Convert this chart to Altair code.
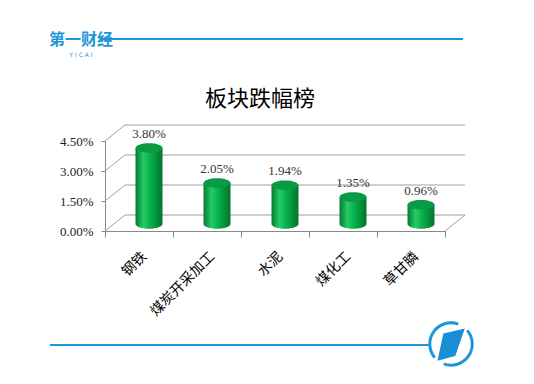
import altair as alt
import pandas as pd

categories = ["钢铁", "煤炭开采加工", "水泥", "煤化工", "草甘膦"]
values = [3.80, 2.05, 1.94, 1.35, 0.96]
y_ticks = [0.0, 1.5, 3.0, 4.5]
title_text = "板块跌幅榜"
logo_text = "第一财经"
logo_sub = "Y I C A I"

df = pd.DataFrame({"cat": categories, "val": values,
                   "label": [f"{v:.2f}%" for v in values]})
grid = pd.DataFrame({"g": y_ticks})
one = pd.DataFrame({"k": [0]})

W, H = 340, 90
DX, DY = 20, -16
BX, BY = 10, -7
BLUE = "#1e96dc"
GRID = "#a0a0a0"

x_enc = alt.X("cat:N", sort=categories,
              scale=alt.Scale(paddingInner=0, paddingOuter=0),
              axis=alt.Axis(title=None, labelAngle=-45, tickBand="extent",
                            domainColor="#888888", tickColor="#888888", tickSize=6,
                            labelFont="Noto Sans CJK SC", labelFontSize=14,
                            labelColor="#000000", labelPadding=12, grid=False,
                            labelOverlap=False))
y_scale = alt.Scale(domain=[0, 4.5], nice=False, zero=True)
y_axis = alt.Axis(title=None, values=y_ticks, grid=False, labelOverlap=False,
                  labelFlush=False,
                  labelExpr="format(datum.value, '.2f') + '%'",
                  labelFont="Liberation Serif", labelFontSize=13, labelColor="#222222",
                  domainColor="#888888", tickColor="#888888", tickSize=4, labelPadding=8)

grad = alt.LinearGradient(gradient="linear", x1=0, x2=1, y1=0, y2=0, stops=[
    alt.GradientStop(offset=0, color="#067a33"),
    alt.GradientStop(offset=0.3, color="#25cc64"),
    alt.GradientStop(offset=0.55, color="#07b04b"),
    alt.GradientStop(offset=1, color="#04742d"),
])

ellipse = "M -1 0 A 1 0.35 0 1 1 1 0 A 1 0.35 0 1 1 -1 0 Z"
half_ellipse = "M -1 0 A 1 0.35 0 0 0 1 0 Z"

# back wall gridlines
back = alt.Chart(grid).mark_rule(color=GRID, strokeWidth=1, yOffset=DY, y2Offset=DY).encode(
    x=alt.value(DX), x2=alt.value(W + DX),
    y=alt.Y("g:Q", scale=y_scale, axis=y_axis))
# left wall diagonals
diag = alt.Chart(grid).mark_rule(color=GRID, strokeWidth=1, y2Offset=DY).encode(
    x=alt.value(0), x2=alt.value(DX),
    y=alt.Y("g:Q", scale=y_scale, axis=y_axis), y2="g:Q")
# floor right edge
floor = alt.Chart(one).mark_rule(color=GRID, strokeWidth=1, y2Offset=DY).encode(
    x=alt.value(W), x2=alt.value(W + DX),
    y=alt.YDatum(0, scale=y_scale, axis=y_axis), y2=alt.datum(0))

bottom = alt.Chart(df).mark_point(shape=half_ellipse, size=729, filled=True, fill=grad,
                                  opacity=1, strokeWidth=0, xOffset=BX, yOffset=BY).encode(
    x=x_enc, y=alt.YDatum(0, scale=y_scale, axis=y_axis))
bars = alt.Chart(df).mark_bar(size=27, fill=grad, xOffset=BX, yOffset=BY, y2Offset=BY).encode(
    x=x_enc, y=alt.Y("val:Q", scale=y_scale, axis=y_axis))
tops = alt.Chart(df).mark_point(shape=ellipse, size=729, filled=True, fill="#0a9a44",
                                opacity=1, strokeWidth=0, xOffset=BX, yOffset=BY).encode(
    x=x_enc, y=alt.Y("val:Q", scale=y_scale, axis=y_axis))
labels = alt.Chart(df).mark_text(font="Liberation Serif", fontSize=13, color="#333333",
                                 xOffset=BX, yOffset=BY - 14).encode(
    x=x_enc, y=alt.Y("val:Q", scale=y_scale, axis=y_axis), text="label:N")

title = alt.Chart(one).mark_text(text=title_text, font="Noto Sans CJK SC", fontSize=22,
                                 fontWeight="normal", color="#000000").encode(
    x=alt.value(155), y=alt.value(-42))

top_line = alt.Chart(one).mark_rule(color=BLUE, strokeWidth=2).encode(
    x=alt.value(-5), x2=alt.value(358), y=alt.value(-102))
logo = alt.Chart(one).mark_text(text=logo_text, font="Noto Sans CJK SC", fontSize=16,
                                fontWeight="bold", color=BLUE).encode(
    x=alt.value(-24), y=alt.value(-101))
logo2 = alt.Chart(one).mark_text(text=logo_sub, font="DejaVu Sans", fontSize=6,
                                 color=BLUE).encode(
    x=alt.value(-24), y=alt.value(-86))
bot_line = alt.Chart(one).mark_rule(color=BLUE, strokeWidth=2).encode(
    x=alt.value(-55), x2=alt.value(325), y=alt.value(204))
ring_path = ("M 0.766 -0.643 A 1 1 0 0 1 -0.342 0.940 "
             "M -0.766 0.643 A 1 1 0 0 1 0.342 -0.940")
ring = alt.Chart(one).mark_point(shape=ring_path, size=1800, filled=False, color=BLUE,
                                 strokeWidth=3, opacity=1).encode(
    x=alt.value(346), y=alt.value(203))
para = alt.Chart(one).mark_point(shape="M -0.36 -0.5 L 0.65 -0.73 L 0.2 0.56 L -0.64 0.79 Z",
                                 size=1800, filled=True, fill="#1a8fd8", opacity=1,
                                 strokeWidth=0).encode(
    x=alt.value(346), y=alt.value(203))

chart = alt.layer(back, diag, floor, bottom, bars, tops, labels, title,
                  top_line, logo, logo2, bot_line, ring, para).properties(
    width=W, height=H,
    padding={"left": 97, "top": 133, "right": 81, "bottom": 145},
    autosize=alt.AutoSizeParams(type="none"),
).configure_view(stroke=None).configure_axis(labelOverlap=False)

chart.save("out.html", embed_options={"renderer": "svg", "actions": False})
